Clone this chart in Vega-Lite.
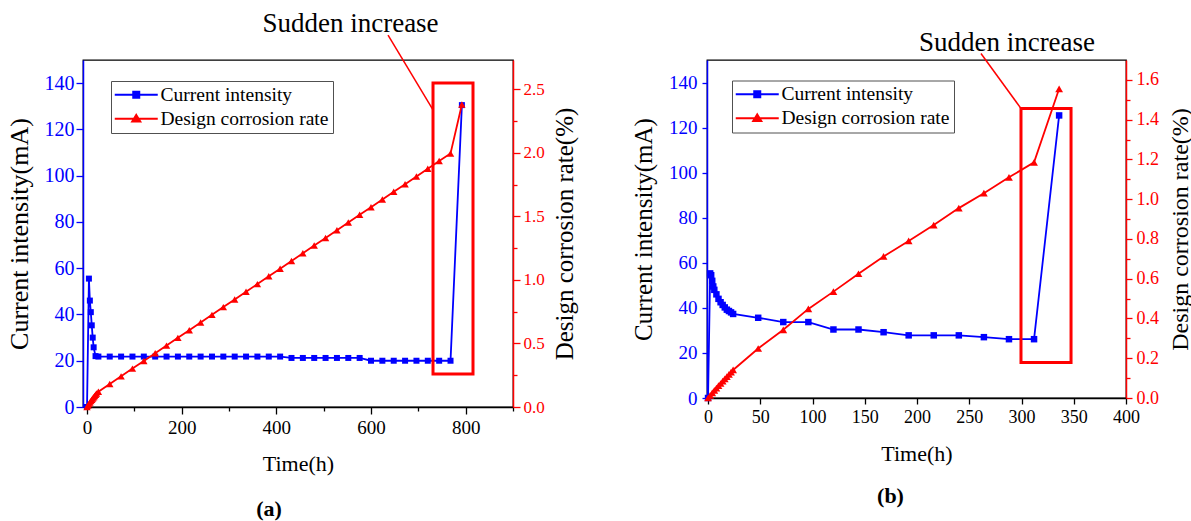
{
  "$schema": "https://vega.github.io/schema/vega-lite/v6.json",
  "background": "white",
  "padding": {"left": 5, "top": 9, "right": 0, "bottom": 0},
  "bounds": "flush",
  "spacing": 194,
  "config": {
    "font": "Liberation Serif",
    "view": {"stroke": "black", "strokeWidth": 1.3},
    "axis": {
      "grid": false,
      "labelFont": "Liberation Serif",
      "titleFont": "Liberation Serif",
      "titleFontWeight": "normal",
      "labelOverlap": false,
      "labelFlush": false,
      "domainWidth": 1.5,
      "tickWidth": 1.3
    },
    "legend": {"labelFont": "Liberation Serif"}
  },
  "datasets": {
    "a": [
      {"series": "Current intensity", "t": 0, "value": 0},
      {"series": "Current intensity", "t": 4, "value": 55.5},
      {"series": "Current intensity", "t": 6, "value": 46},
      {"series": "Current intensity", "t": 8, "value": 41},
      {"series": "Current intensity", "t": 10, "value": 35.3},
      {"series": "Current intensity", "t": 12, "value": 30},
      {"series": "Current intensity", "t": 14, "value": 25.8},
      {"series": "Current intensity", "t": 18, "value": 22},
      {"series": "Current intensity", "t": 24, "value": 21.8},
      {"series": "Current intensity", "t": 48, "value": 21.8},
      {"series": "Current intensity", "t": 72, "value": 21.8},
      {"series": "Current intensity", "t": 96, "value": 21.8},
      {"series": "Current intensity", "t": 120, "value": 21.8},
      {"series": "Current intensity", "t": 144, "value": 21.8},
      {"series": "Current intensity", "t": 168, "value": 21.8},
      {"series": "Current intensity", "t": 192, "value": 21.8},
      {"series": "Current intensity", "t": 216, "value": 21.8},
      {"series": "Current intensity", "t": 240, "value": 21.8},
      {"series": "Current intensity", "t": 264, "value": 21.8},
      {"series": "Current intensity", "t": 288, "value": 21.8},
      {"series": "Current intensity", "t": 312, "value": 21.8},
      {"series": "Current intensity", "t": 336, "value": 21.8},
      {"series": "Current intensity", "t": 360, "value": 21.8},
      {"series": "Current intensity", "t": 384, "value": 21.8},
      {"series": "Current intensity", "t": 408, "value": 21.8},
      {"series": "Current intensity", "t": 432, "value": 21.2},
      {"series": "Current intensity", "t": 456, "value": 21.2},
      {"series": "Current intensity", "t": 480, "value": 21.2},
      {"series": "Current intensity", "t": 504, "value": 21.2},
      {"series": "Current intensity", "t": 528, "value": 21.2},
      {"series": "Current intensity", "t": 552, "value": 21.2},
      {"series": "Current intensity", "t": 576, "value": 21.2},
      {"series": "Current intensity", "t": 600, "value": 20.0},
      {"series": "Current intensity", "t": 624, "value": 20.0},
      {"series": "Current intensity", "t": 648, "value": 20.0},
      {"series": "Current intensity", "t": 672, "value": 20.0},
      {"series": "Current intensity", "t": 696, "value": 20.0},
      {"series": "Current intensity", "t": 720, "value": 20.0},
      {"series": "Current intensity", "t": 744, "value": 20.0},
      {"series": "Current intensity", "t": 768, "value": 20.0},
      {"series": "Current intensity", "t": 792, "value": 130.5},
      {"series": "Design corrosion rate", "t": 0, "value": 0},
      {"series": "Design corrosion rate", "t": 2, "value": 0.012},
      {"series": "Design corrosion rate", "t": 4, "value": 0.024},
      {"series": "Design corrosion rate", "t": 6, "value": 0.035},
      {"series": "Design corrosion rate", "t": 8, "value": 0.046},
      {"series": "Design corrosion rate", "t": 10, "value": 0.057},
      {"series": "Design corrosion rate", "t": 12, "value": 0.067},
      {"series": "Design corrosion rate", "t": 14, "value": 0.077},
      {"series": "Design corrosion rate", "t": 16, "value": 0.087},
      {"series": "Design corrosion rate", "t": 18, "value": 0.097},
      {"series": "Design corrosion rate", "t": 20, "value": 0.106},
      {"series": "Design corrosion rate", "t": 24, "value": 0.12},
      {"series": "Design corrosion rate", "t": 48, "value": 0.181},
      {"series": "Design corrosion rate", "t": 72, "value": 0.241},
      {"series": "Design corrosion rate", "t": 96, "value": 0.302},
      {"series": "Design corrosion rate", "t": 120, "value": 0.362},
      {"series": "Design corrosion rate", "t": 144, "value": 0.423},
      {"series": "Design corrosion rate", "t": 168, "value": 0.483},
      {"series": "Design corrosion rate", "t": 192, "value": 0.544},
      {"series": "Design corrosion rate", "t": 216, "value": 0.604},
      {"series": "Design corrosion rate", "t": 240, "value": 0.665},
      {"series": "Design corrosion rate", "t": 264, "value": 0.725},
      {"series": "Design corrosion rate", "t": 288, "value": 0.786},
      {"series": "Design corrosion rate", "t": 312, "value": 0.846},
      {"series": "Design corrosion rate", "t": 336, "value": 0.907},
      {"series": "Design corrosion rate", "t": 360, "value": 0.967},
      {"series": "Design corrosion rate", "t": 384, "value": 1.028},
      {"series": "Design corrosion rate", "t": 408, "value": 1.088},
      {"series": "Design corrosion rate", "t": 432, "value": 1.149},
      {"series": "Design corrosion rate", "t": 456, "value": 1.209},
      {"series": "Design corrosion rate", "t": 480, "value": 1.27},
      {"series": "Design corrosion rate", "t": 504, "value": 1.33},
      {"series": "Design corrosion rate", "t": 528, "value": 1.391},
      {"series": "Design corrosion rate", "t": 552, "value": 1.451},
      {"series": "Design corrosion rate", "t": 576, "value": 1.512},
      {"series": "Design corrosion rate", "t": 600, "value": 1.572},
      {"series": "Design corrosion rate", "t": 624, "value": 1.632},
      {"series": "Design corrosion rate", "t": 648, "value": 1.693},
      {"series": "Design corrosion rate", "t": 672, "value": 1.753},
      {"series": "Design corrosion rate", "t": 696, "value": 1.814},
      {"series": "Design corrosion rate", "t": 720, "value": 1.874},
      {"series": "Design corrosion rate", "t": 744, "value": 1.935},
      {"series": "Design corrosion rate", "t": 768, "value": 1.995},
      {"series": "Design corrosion rate", "t": 792, "value": 2.38}
    ],
    "b": [
      {"series": "Current intensity", "t": 0, "value": 0},
      {"series": "Current intensity", "t": 2, "value": 55.3},
      {"series": "Current intensity", "t": 3, "value": 54.5},
      {"series": "Current intensity", "t": 4, "value": 52},
      {"series": "Current intensity", "t": 5, "value": 49.5},
      {"series": "Current intensity", "t": 6, "value": 48},
      {"series": "Current intensity", "t": 8, "value": 46},
      {"series": "Current intensity", "t": 10, "value": 44},
      {"series": "Current intensity", "t": 12, "value": 42.5},
      {"series": "Current intensity", "t": 14, "value": 41.3},
      {"series": "Current intensity", "t": 16, "value": 40.2},
      {"series": "Current intensity", "t": 18, "value": 39.2},
      {"series": "Current intensity", "t": 20, "value": 38.6},
      {"series": "Current intensity", "t": 22, "value": 38},
      {"series": "Current intensity", "t": 24, "value": 37.3},
      {"series": "Current intensity", "t": 48, "value": 35.6},
      {"series": "Current intensity", "t": 72, "value": 33.7},
      {"series": "Current intensity", "t": 96, "value": 33.7},
      {"series": "Current intensity", "t": 120, "value": 30.4},
      {"series": "Current intensity", "t": 144, "value": 30.4},
      {"series": "Current intensity", "t": 168, "value": 29.2},
      {"series": "Current intensity", "t": 192, "value": 27.8},
      {"series": "Current intensity", "t": 216, "value": 27.8},
      {"series": "Current intensity", "t": 240, "value": 27.8},
      {"series": "Current intensity", "t": 264, "value": 27.0},
      {"series": "Current intensity", "t": 288, "value": 26.1},
      {"series": "Current intensity", "t": 312, "value": 26.1},
      {"series": "Current intensity", "t": 336, "value": 125.4},
      {"series": "Design corrosion rate", "t": 0, "value": 0},
      {"series": "Design corrosion rate", "t": 2, "value": 0.013},
      {"series": "Design corrosion rate", "t": 4, "value": 0.026},
      {"series": "Design corrosion rate", "t": 6, "value": 0.038},
      {"series": "Design corrosion rate", "t": 8, "value": 0.05},
      {"series": "Design corrosion rate", "t": 10, "value": 0.062},
      {"series": "Design corrosion rate", "t": 12, "value": 0.073},
      {"series": "Design corrosion rate", "t": 14, "value": 0.085},
      {"series": "Design corrosion rate", "t": 16, "value": 0.096},
      {"series": "Design corrosion rate", "t": 18, "value": 0.107},
      {"series": "Design corrosion rate", "t": 20, "value": 0.119},
      {"series": "Design corrosion rate", "t": 22, "value": 0.13},
      {"series": "Design corrosion rate", "t": 24, "value": 0.141},
      {"series": "Design corrosion rate", "t": 48, "value": 0.249},
      {"series": "Design corrosion rate", "t": 72, "value": 0.343},
      {"series": "Design corrosion rate", "t": 96, "value": 0.448},
      {"series": "Design corrosion rate", "t": 120, "value": 0.535},
      {"series": "Design corrosion rate", "t": 144, "value": 0.625},
      {"series": "Design corrosion rate", "t": 168, "value": 0.712},
      {"series": "Design corrosion rate", "t": 192, "value": 0.79},
      {"series": "Design corrosion rate", "t": 216, "value": 0.87},
      {"series": "Design corrosion rate", "t": 240, "value": 0.955},
      {"series": "Design corrosion rate", "t": 264, "value": 1.03},
      {"series": "Design corrosion rate", "t": 288, "value": 1.11},
      {"series": "Design corrosion rate", "t": 312, "value": 1.185},
      {"series": "Design corrosion rate", "t": 336, "value": 1.555}
    ]
  },
  "hconcat": [
    {
      "width": 430,
      "height": 347,
      "title": {"text": "(a)", "orient": "bottom", "anchor": "middle", "dx": -29, "offset": 25, "fontSize": 22, "fontWeight": "bold", "font": "Liberation Serif", "color": "black"},
      "layer": [
        {
          "layer": [
            {
              "data": {"name": "a"},
              "transform": [{"filter": "datum.series === 'Current intensity'"}],
              "mark": {"type": "line", "strokeWidth": 1.8, "point": {"shape": "square", "size": 36, "filled": true}},
              "encoding": {
                "x": {"field": "t", "type": "quantitative", "scale": {"domain": [-8.5, 900]},
                  "axis": {"title": "Time(h)", "values": [0, 100, 200, 300, 400, 500, 600, 700, 800, 900],
                    "labelExpr": "datum.value % 200 === 0 && datum.value < 900 ? datum.label : ''",
                    "tickSize": {"condition": {"test": "datum.value % 200 === 0", "value": 7}, "value": 4},
                    "labelFont": "Liberation Serif", "titleFont": "Liberation Serif",
                    "domainColor": "black", "tickColor": "black", "labelColor": "black", "titleColor": "black",
                    "labelFontSize": 19, "titleFontSize": 22, "labelPadding": 4, "titlePadding": 16}},
                "y": {"field": "value", "type": "quantitative", "scale": {"domain": [0, 150]},
                  "axis": {"title": "Current intensity(mA)", "values": [0, 10, 20, 30, 40, 50, 60, 70, 80, 90, 100, 110, 120, 130, 140],
                    "labelExpr": "datum.value % 20 === 0 ? datum.label : ''",
                    "tickSize": {"condition": {"test": "datum.value % 20 === 0", "value": 7}, "value": 4},
                    "labelFont": "Liberation Serif", "titleFont": "Liberation Serif",
                    "domainColor": "#0000ff", "tickColor": "#0000ff", "labelColor": "#0000ff", "titleColor": "black",
                    "labelFontSize": 20, "titleFontSize": 26, "labelPadding": 2, "titlePadding": 12}},
                "color": {"field": "series", "type": "nominal",
                  "scale": {"domain": ["Current intensity", "Design corrosion rate"], "range": ["#0000ff", "#ff0000"]},
                  "legend": {"orient": "none", "legendX": 28, "legendY": 21, "title": null, "direction": "vertical",
                    "strokeColor": "#505050", "fillColor": "white", "padding": 4, "rowPadding": 3,
                    "labelFont": "Liberation Serif", "labelFontSize": 19.5, "labelColor": "black", "labelOffset": 26, "labelLimit": 400,
                    "symbolSize": 100, "symbolStrokeWidth": 2,
                    "symbolType": "M-2,0L6.6,0M1.7,-0.6L2.9,-0.6L2.9,0.6L1.7,0.6Z",
                    "encode": {"symbols": {"update": {
                      "shape": {"signal": "datum.value === 'Current intensity' ? 'M-2,0L6.6,0M1.7,-0.6L2.9,-0.6L2.9,0.6L1.7,0.6Z' : 'M-2,0L6.6,0M2.3,-0.75L3.1,0.55L1.5,0.55Z'"},
                      "fill": {"signal": "datum.value === 'Current intensity' ? '#0000ff' : '#ff0000'"},
                      "stroke": {"signal": "datum.value === 'Current intensity' ? '#0000ff' : '#ff0000'"},
                      "opacity": {"value": 1}
                    }}}}}
              }
            },
            {
              "data": {"values": [{"t0": 731, "t1": 815.5, "lo": 14.3, "hi": 140.1}]},
              "mark": {"type": "rect", "filled": false, "stroke": "#ff0000", "strokeWidth": 3},
              "encoding": {
                "x": {"field": "t0", "type": "quantitative", "scale": {"domain": [-8.5, 900]}},
                "x2": {"field": "t1"},
                "y": {"field": "lo", "type": "quantitative", "scale": {"domain": [0, 150]}},
                "y2": {"field": "hi"}
              }
            },
            {
              "data": {"values": [{"t0": 636, "y0": 160.8, "t1": 731, "y1": 128.4}]},
              "mark": {"type": "rule", "stroke": "#ff0000", "strokeWidth": 1.5},
              "encoding": {
                "x": {"field": "t0", "type": "quantitative", "scale": {"domain": [-8.5, 900]}},
                "x2": {"field": "t1"},
                "y": {"field": "y0", "type": "quantitative", "scale": {"domain": [0, 150]}},
                "y2": {"field": "y1"}
              }
            },
            {
              "data": {"values": [{"t": 556.7, "y": 161.9, "label": "Sudden increase"}]},
              "mark": {"type": "text", "font": "Liberation Serif", "fontSize": 27, "color": "black", "align": "center", "baseline": "alphabetic"},
              "encoding": {
                "x": {"field": "t", "type": "quantitative", "scale": {"domain": [-8.5, 900]}},
                "y": {"field": "y", "type": "quantitative", "scale": {"domain": [0, 150]}},
                "text": {"field": "label"}
              }
            }
          ]
        },
        {
          "data": {"name": "a"},
          "transform": [{"filter": "datum.series === 'Design corrosion rate'"}],
          "mark": {"type": "line", "strokeWidth": 1.8, "point": {"shape": "triangle-up", "size": 55, "filled": true}},
          "encoding": {
            "x": {"field": "t", "type": "quantitative", "scale": {"domain": [-8.5, 900]}},
            "y": {"field": "value", "type": "quantitative", "scale": {"domain": [0, 2.73]},
              "axis": {"orient": "right", "title": "Design corrosion rate(%)", "titleAngle": -90, "titleBaseline": "top",
                "values": [0, 0.25, 0.5, 0.75, 1, 1.25, 1.5, 1.75, 2, 2.25, 2.5],
                "labelExpr": "round(datum.value * 4) % 2 === 0 ? format(datum.value, '.1f') : ''",
                "tickSize": {"condition": {"test": "round(datum.value * 4) % 2 === 0", "value": 7}, "value": 4},
                "labelFont": "Liberation Serif", "titleFont": "Liberation Serif",
                "domainColor": "#ff0000", "tickColor": "#ff0000", "labelColor": "#ff0000", "titleColor": "black",
                "labelFontSize": 17, "titleFontSize": 25, "labelPadding": 3, "titlePadding": 8}},
            "color": {"field": "series", "type": "nominal",
              "scale": {"domain": ["Current intensity", "Design corrosion rate"], "range": ["#0000ff", "#ff0000"]}}
          }
        }
      ],
      "resolve": {"scale": {"y": "independent"}}
    },
    {
      "width": 419,
      "height": 338,
      "title": {"text": "(b)", "orient": "bottom", "anchor": "middle", "dx": -26, "offset": 22, "fontSize": 22, "fontWeight": "bold", "font": "Liberation Serif", "color": "black"},
      "layer": [
        {
          "layer": [
            {
              "data": {"name": "b"},
              "transform": [{"filter": "datum.series === 'Current intensity'"}],
              "mark": {"type": "line", "strokeWidth": 1.8, "point": {"shape": "square", "size": 42, "filled": true}},
              "encoding": {
                "x": {"field": "t", "type": "quantitative", "scale": {"domain": [-1, 400]},
                  "axis": {"title": "Time(h)", "values": [0, 25, 50, 75, 100, 125, 150, 175, 200, 225, 250, 275, 300, 325, 350, 375, 400],
                    "labelExpr": "datum.value % 50 === 0 ? datum.label : ''",
                    "tickSize": {"condition": {"test": "datum.value % 50 === 0", "value": 6}, "value": 4},
                    "labelFont": "Liberation Serif", "titleFont": "Liberation Serif",
                    "domainColor": "black", "tickColor": "black", "labelColor": "black", "titleColor": "black",
                    "labelFontSize": 18, "titleFontSize": 22, "labelPadding": 4, "titlePadding": 17}},
                "y": {"field": "value", "type": "quantitative", "scale": {"domain": [0, 150]},
                  "axis": {"title": "Current intensity(mA)", "values": [0, 10, 20, 30, 40, 50, 60, 70, 80, 90, 100, 110, 120, 130, 140],
                    "labelExpr": "datum.value % 20 === 0 ? datum.label : ''",
                    "tickSize": {"condition": {"test": "datum.value % 20 === 0", "value": 5}, "value": 3},
                    "labelFont": "Liberation Serif", "titleFont": "Liberation Serif",
                    "domainColor": "#0000ff", "tickColor": "#0000ff", "labelColor": "#0000ff", "titleColor": "black",
                    "labelFontSize": 19, "titleFontSize": 25, "labelPadding": 5, "titlePadding": 12}},
                "color": {"field": "series", "type": "nominal",
                  "scale": {"domain": ["Current intensity", "Design corrosion rate"], "range": ["#0000ff", "#ff0000"]},
                  "legend": {"orient": "none", "legendX": 25, "legendY": 20.5, "title": null, "direction": "vertical",
                    "strokeColor": "#505050", "fillColor": "white", "padding": 4, "rowPadding": 3,
                    "labelFont": "Liberation Serif", "labelFontSize": 19.5, "labelColor": "black", "labelOffset": 26, "labelLimit": 400,
                    "symbolSize": 100, "symbolStrokeWidth": 2,
                    "symbolType": "M-2,0L6.6,0M1.7,-0.6L2.9,-0.6L2.9,0.6L1.7,0.6Z",
                    "encode": {"symbols": {"update": {
                      "shape": {"signal": "datum.value === 'Current intensity' ? 'M-2,0L6.6,0M1.7,-0.6L2.9,-0.6L2.9,0.6L1.7,0.6Z' : 'M-2,0L6.6,0M2.3,-0.75L3.1,0.55L1.5,0.55Z'"},
                      "fill": {"signal": "datum.value === 'Current intensity' ? '#0000ff' : '#ff0000'"},
                      "stroke": {"signal": "datum.value === 'Current intensity' ? '#0000ff' : '#ff0000'"},
                      "opacity": {"value": 1}
                    }}}}}
              }
            },
            {
              "data": {"values": [{"t0": 299.5, "t1": 347.4, "lo": 15.8, "hi": 128.5}]},
              "mark": {"type": "rect", "filled": false, "stroke": "#ff0000", "strokeWidth": 3},
              "encoding": {
                "x": {"field": "t0", "type": "quantitative", "scale": {"domain": [-1, 400]}},
                "x2": {"field": "t1"},
                "y": {"field": "lo", "type": "quantitative", "scale": {"domain": [0, 150]}},
                "y2": {"field": "hi"}
              }
            },
            {
              "data": {"values": [{"t0": 261.2, "y0": 152.9, "t1": 299.8, "y1": 128.3}]},
              "mark": {"type": "rule", "stroke": "#ff0000", "strokeWidth": 1.5},
              "encoding": {
                "x": {"field": "t0", "type": "quantitative", "scale": {"domain": [-1, 400]}},
                "x2": {"field": "t1"},
                "y": {"field": "y0", "type": "quantitative", "scale": {"domain": [0, 150]}},
                "y2": {"field": "y1"}
              }
            },
            {
              "data": {"values": [{"t": 286.1, "y": 153.8, "label": "Sudden increase"}]},
              "mark": {"type": "text", "font": "Liberation Serif", "fontSize": 27, "color": "black", "align": "center", "baseline": "alphabetic"},
              "encoding": {
                "x": {"field": "t", "type": "quantitative", "scale": {"domain": [-1, 400]}},
                "y": {"field": "y", "type": "quantitative", "scale": {"domain": [0, 150]}},
                "text": {"field": "label"}
              }
            }
          ]
        },
        {
          "data": {"name": "b"},
          "transform": [{"filter": "datum.series === 'Design corrosion rate'"}],
          "mark": {"type": "line", "strokeWidth": 1.8, "point": {"shape": "triangle-up", "size": 60, "filled": true}},
          "encoding": {
            "x": {"field": "t", "type": "quantitative", "scale": {"domain": [-1, 400]}},
            "y": {"field": "value", "type": "quantitative", "scale": {"domain": [0, 1.7]},
              "axis": {"orient": "right", "title": "Design corrosion rate(%)", "titleAngle": -90, "titleBaseline": "top",
                "values": [0, 0.1, 0.2, 0.3, 0.4, 0.5, 0.6, 0.7, 0.8, 0.9, 1, 1.1, 1.2, 1.3, 1.4, 1.5, 1.6],
                "labelExpr": "round(datum.value * 10) % 2 === 0 ? format(datum.value, '.1f') : ''",
                "tickSize": {"condition": {"test": "round(datum.value * 10) % 2 === 0", "value": 6}, "value": 4},
                "labelFont": "Liberation Serif", "titleFont": "Liberation Serif",
                "domainColor": "#ff0000", "tickColor": "#ff0000", "labelColor": "#ff0000", "titleColor": "black",
                "labelFontSize": 18, "titleFontSize": 24, "labelPadding": 4, "titlePadding": 10}},
            "color": {"field": "series", "type": "nominal",
              "scale": {"domain": ["Current intensity", "Design corrosion rate"], "range": ["#0000ff", "#ff0000"]}}
          }
        }
      ],
      "resolve": {"scale": {"y": "independent"}}
    }
  ],
  "resolve": {"scale": {"color": "independent"}, "legend": {"color": "independent"}}
}
